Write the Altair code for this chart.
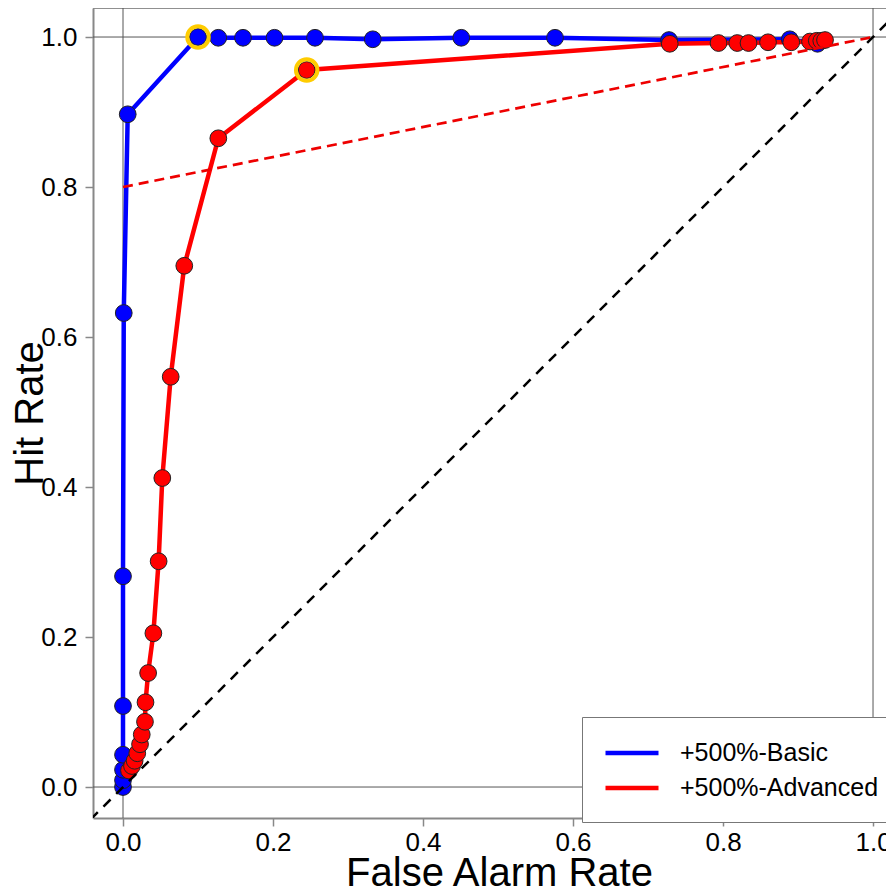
import altair as alt
import pandas as pd

series_names = ["+500%-Basic", "+500%-Advanced"]
series_colors = ["#0000FF", "#FF0000"]

basic_x = [0.0, 0.0, 0.0, 0.0, 0.0, 0.0, 0.001, 0.0063, 0.100, 0.127, 0.160, 0.202,
           0.256, 0.333, 0.451, 0.576, 0.728, 0.889, 0.926]
basic_y = [0.0, 0.009, 0.023, 0.043, 0.108, 0.281, 0.632, 0.897, 1.000, 0.999, 0.999, 0.999,
           0.999, 0.997, 0.999, 0.999, 0.996, 0.997, 0.991]

adv_x = [0.008, 0.012, 0.0155, 0.019, 0.0227, 0.025, 0.0293, 0.030, 0.0335, 0.0405, 0.0475,
         0.0524, 0.0636, 0.0817, 0.1271, 0.2449, 0.729, 0.794, 0.819, 0.834, 0.860, 0.891,
         0.916, 0.925, 0.931, 0.936]
adv_y = [0.022, 0.028, 0.035, 0.045, 0.057, 0.070, 0.087, 0.113, 0.152, 0.205, 0.301,
         0.412, 0.547, 0.695, 0.865, 0.956, 0.991, 0.992, 0.992, 0.992, 0.993, 0.993,
         0.994, 0.995, 0.995, 0.996]

highlight_x = [0.100, 0.2449]
highlight_y = [1.000, 0.956]

ref_lines = [0.0, 1.0]
skill_x = [0.0, 1.0]
skill_y = [0.8, 1.0]
diag_vals = [-0.06, 1.1]
tick_values = [0.0, 0.2, 0.4, 0.6, 0.8, 1.0]

rows = []
for i, (x, y) in enumerate(zip(basic_x, basic_y)):
    rows.append({"series": series_names[0], "x": x, "y": y, "idx": i})
for i, (x, y) in enumerate(zip(adv_x, adv_y)):
    rows.append({"series": series_names[1], "x": x, "y": y, "idx": i})
df = pd.DataFrame(rows)

hl_df = pd.DataFrame({"x": highlight_x, "y": highlight_y})
ref_df = pd.DataFrame({"x": ref_lines, "y": ref_lines})
skill_df = pd.DataFrame({"x": skill_x, "y": skill_y})
diag_df = pd.DataFrame({"x": diag_vals, "y": diag_vals})

FONT = "Liberation Sans"
W, H = 793, 810
xscale = alt.Scale(domain=[-0.04, 1.0173], nice=False, zero=False)
yscale = alt.Scale(domain=[-0.0413, 1.0387], nice=False, zero=False)

xaxis = alt.Axis(values=tick_values, format=".1f", title="False Alarm Rate", grid=False,
                 labelFontSize=26, labelFont=FONT, labelColor="black", labelPadding=3,
                 tickSize=8, tickColor="#888888", tickWidth=1.5,
                 domainColor="#888888", domainWidth=2,
                 titleFont=FONT, titleFontSize=40, titleFontWeight="normal", titleColor="black",
                 titleX=406, titleY=67, titleAlign="center", titleBaseline="alphabetic")
yaxis = alt.Axis(values=tick_values, format=".1f", title="Hit Rate", grid=False,
                 labelFontSize=26, labelFont=FONT, labelColor="black", labelPadding=8,
                 tickSize=8, tickColor="#888888", tickWidth=1.5,
                 domainColor="#888888", domainWidth=2,
                 titleFont=FONT, titleFontSize=40, titleFontWeight="normal", titleColor="black",
                 titleAngle=270, titleX=-51, titleY=405, titleAlign="center",
                 titleBaseline="alphabetic")

X = alt.X("x:Q", scale=xscale, axis=xaxis)
Y = alt.Y("y:Q", scale=yscale, axis=yaxis)

top_border = alt.Chart(ref_df).mark_rule(color="#888888", strokeWidth=1.5).encode(
    x=alt.value(0), x2=alt.value(W), y=alt.value(0))

vrules = alt.Chart(ref_df).mark_rule(color="#555555", strokeWidth=1).encode(x=X)
hrules = alt.Chart(ref_df).mark_rule(color="#555555", strokeWidth=1).encode(y=Y)

cscale = alt.Scale(domain=series_names, range=series_colors)

lines = alt.Chart(df).mark_line(strokeWidth=4.5).encode(
    x=X, y=Y,
    color=alt.Color("series:N", scale=cscale, sort=series_names,
                    legend=alt.Legend(title=None, orient="none", legendX=489, legendY=709,
                                      fillColor="white", strokeColor="#777777",
                                      padding=21, symbolType="M-2.12,0H2.12", symbolSize=625,
                                      symbolOffset=14, symbolStrokeWidth=4.5,
                                      labelFontSize=25, labelFont=FONT, labelColor="black",
                                      labelOffset=33, rowPadding=7, labelLimit=400)),
    order="idx:Q",
)

points = alt.Chart(df).mark_point(filled=True, size=280, opacity=1, stroke="#222222",
                                  strokeWidth=1, shape="circle").encode(
    x=X, y=Y,
    fill=alt.Fill("series:N", scale=cscale, legend=None),
)

rings = alt.Chart(hl_df).mark_point(filled=False, size=460, opacity=1, color="#FFCC00",
                                    strokeWidth=4, shape="circle").encode(x=X, y=Y)

skill = alt.Chart(skill_df).mark_line(color="#EE0000", strokeWidth=2.7,
                                      strokeDash=[10, 6]).encode(x=X, y=Y)

diag = alt.Chart(diag_df).mark_line(color="black", strokeWidth=2.5, strokeDash=[10, 8],
                                    clip=True).encode(x=X, y=Y)

chart = alt.layer(top_border, vrules, hrules, lines, points, rings, skill, diag).properties(
    width=W, height=H,
    autosize=alt.AutoSizeParams(type="none"),
    padding={"left": 85, "top": 0, "right": 0, "bottom": 68},
    background="white",
).configure_view(stroke=None)

chart.save("out.html", embed_options={"renderer": "svg", "actions": False})
